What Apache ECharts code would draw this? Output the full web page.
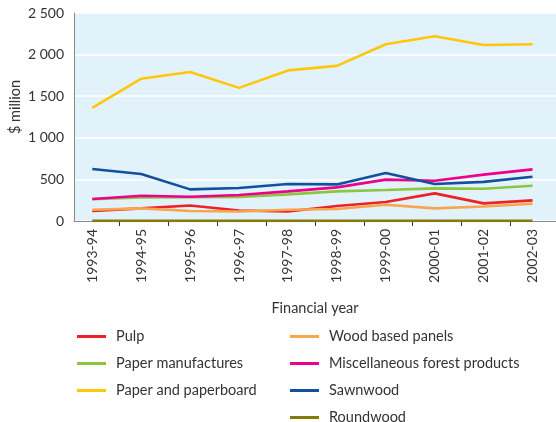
<!DOCTYPE html>
<html>
<head>
<meta charset="utf-8">
<script src="https://cdn.jsdelivr.net/npm/echarts@6/dist/echarts.min.js"></script>
<style>
  html, body { margin: 0; padding: 0; background: #ffffff; }
  #chart { width: 556px; height: 422px; }
</style>
</head>
<body>
<div id="chart"></div>
<script>
// Forest product imports by financial year ($ million)
const years = ['1993-94', '1994-95', '1995-96', '1996-97', '1997-98',
               '1998-99', '1999-00', '2000-01', '2001-02', '2002-03'];

const pulp              = [120, 152, 187, 127, 115, 180, 229, 332, 212, 248];
const paperManufactures = [262, 284, 286, 289, 320, 356, 373, 392, 388, 424];
const paperPaperboard   = [1360, 1710, 1790, 1600, 1810, 1865, 2125, 2220, 2115, 2125];
const woodPanels        = [136, 152, 120, 115, 136, 144, 196, 152, 175, 208];
const miscForest        = [264, 304, 292, 312, 356, 404, 497, 484, 557, 620];
const sawnwood          = [625, 565, 380, 396, 445, 440, 577, 445, 470, 532];
const roundwood         = [2, 2, 2, 2, 2, 2, 2, 2, 2, 2];

const yTicks = [0, 500, 1000, 1500, 2000, 2500];

const FONT = 'Lato';
const TEXT = '#333333';

function pairs(vals) { return vals.map((v, i) => [i, v]); }
// thousands separated by a space, e.g. 2 500
function fmtThousands(v) {
  return String(v).replace(/\B(?=(\d{3})+(?!\d))/g, ' ');
}

const seriesDefs = [
  { name: 'Pulp', data: pulp, color: '#ec2227' },
  { name: 'Paper manufactures', data: paperManufactures, color: '#8cc63f' },
  { name: 'Paper and paperboard', data: paperPaperboard, color: '#ffc60b' },
  { name: 'Wood based panels', data: woodPanels, color: '#f9a54d' },
  { name: 'Miscellaneous forest products', data: miscForest, color: '#ec008c' },
  { name: 'Sawnwood', data: sawnwood, color: '#11509f' },
  { name: 'Roundwood', data: roundwood, color: '#857a0a' }
];

const chart = echarts.init(document.getElementById('chart'), null, { renderer: 'canvas' });

const legendText = {
  color: TEXT, fontFamily: FONT, fontSize: 14.5, lineHeight: 14, padding: [0, 0, 0, 5]
};
const legendBase = {
  orient: 'vertical', top: 329, height: 140, itemGap: 12, padding: 0,
  itemWidth: 29, itemHeight: 3, icon: 'rect', textStyle: legendText
};

chart.setOption({
  animation: false,
  backgroundColor: '#ffffff',
  color: seriesDefs.map(s => s.color),
  grid: {
    left: 74, right: 0, top: 13, bottom: 201,
    show: true, backgroundColor: '#e1f2fa', borderWidth: 0
  },
  legend: [
    Object.assign({}, legendBase, {
      left: 77,
      data: ['Pulp', 'Paper manufactures', 'Paper and paperboard']
    }),
    Object.assign({}, legendBase, {
      left: 290,
      data: ['Wood based panels', 'Miscellaneous forest products', 'Sawnwood', 'Roundwood']
    })
  ],
  xAxis: {
    type: 'value',
    min: -0.374,
    max: 9.48,
    splitLine: { show: false },
    axisLine: { show: true, onZero: false, lineStyle: { color: '#8a8a8a', width: 1 } },
    axisTick: {
      show: true, length: 5, inside: false,
      customValues: years.slice(1).map((_, i) => i + 0.55),
      lineStyle: { color: '#333333', width: 1 }
    },
    axisLabel: {
      customValues: years.map((_, i) => i),
      formatter: v => years[Math.round(v)],
      rotate: 90, margin: 8,
      color: TEXT, fontFamily: FONT, fontSize: 14
    },
    name: 'Financial year',
    nameLocation: 'middle',
    nameGap: 80,
    nameTextStyle: { color: TEXT, fontFamily: FONT, fontSize: 14.5 }
  },
  yAxis: {
    type: 'value',
    min: yTicks[0], max: yTicks[yTicks.length - 1], interval: 500,
    axisLine: { show: true, onZero: false, lineStyle: { color: '#8a8a8a', width: 1 } },
    axisTick: { show: false },
    splitLine: { show: true, lineStyle: { color: '#ffffff', width: 1.5 } },
    axisLabel: {
      margin: 10, color: TEXT, fontFamily: FONT, fontSize: 14,
      formatter: v => fmtThousands(v)
    }
  },
  graphic: [
    {
      type: 'text', x: 15, y: 107, rotation: Math.PI / 2,
      style: {
        text: '$ million', fill: TEXT, font: '14.5px ' + FONT,
        align: 'center', verticalAlign: 'middle'
      }
    }
  ],
  series: seriesDefs.map(s => ({
    name: s.name,
    type: 'line',
    data: pairs(s.data),
    showSymbol: false,
    symbol: 'none',
    lineStyle: { width: 2.6, color: s.color },
    itemStyle: { color: s.color },
    z: 3
  }))
});
</script>
</body>
</html>
